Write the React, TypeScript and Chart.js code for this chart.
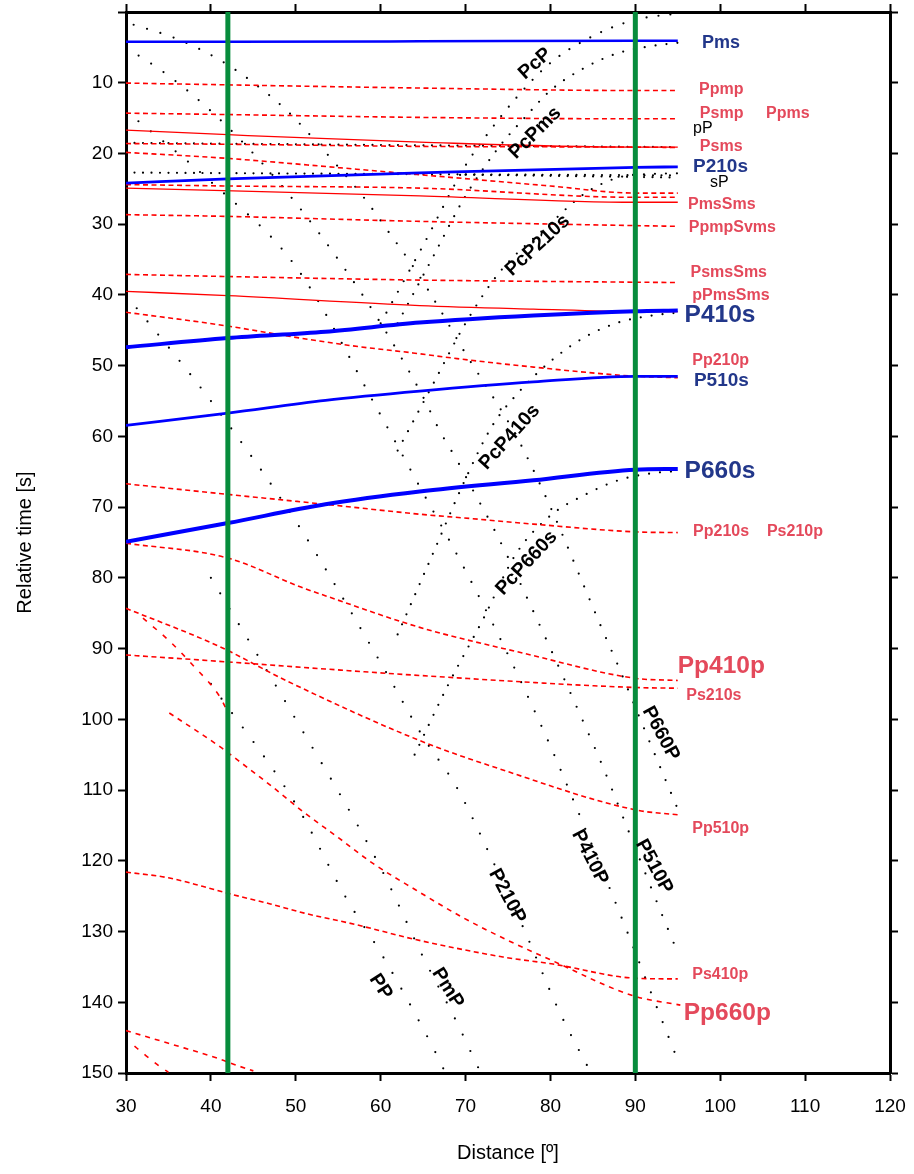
import React, { useEffect, useRef } from "react";
import { Chart, registerables } from "chart.js";
Chart.register(...registerables);

type P = [number, number];
const FONT = "'Liberation Sans', Arial, Helvetica, sans-serif";

// ---------- axis ticks ----------
const xMin = 30, xMax = 120, xStep = 10;
const yMin = 0, yMax = 150, yStep = 10;

// ---------- P-to-s conversions (blue) ----------
const Pms: P[] = [[30, 4.2], [42, 4.2], [64.6, 4.15], [90, 4.05], [95, 4.05]];
const P210s: P[] = [[30, 24.2], [42, 23.6], [64.6, 22.75], [90, 21.96], [95, 21.9]];
const P410s: P[] = [[30, 47.4], [42, 46.1], [53.5, 45.2], [64.6, 43.9], [78, 42.9], [90, 42.3], [95, 42.2]];
const P510s: P[] = [[30, 58.45], [42, 56.7], [53.5, 54.9], [64.6, 53.6], [78, 52.3], [90, 51.5], [95, 51.5]];
const P660s: P[] = [[30, 74.9], [42, 72.25], [53.5, 69.6], [64.6, 67.8], [78, 66.2], [90, 64.7], [95, 64.6]];

// ---------- multiples (red dashed) ----------
const Ppmp: P[] = [[30, 10.05], [42, 10.3], [64.6, 10.75], [90, 11.1], [95, 11.1]];
const Psmp: P[] = [[30, 14.3], [42, 14.5], [64.6, 14.9], [90, 15.1], [95, 15.1]];
const PsmsDash: P[] = [[30, 18.6], [42, 18.7], [64.6, 19.0], [90, 19.1], [95, 19.15]];
const PpmsDash: P[] = [[30, 19.85], [42, 20.7], [55, 22.0], [64.6, 23.0], [80, 24.6], [90, 25.6], [95, 25.6]];
const PmsSmsDash: P[] = [[30, 24.4], [42, 24.6], [64.6, 24.9], [90, 26.2], [95, 26.2]];
const PpmpSvms: P[] = [[30, 28.65], [42, 28.9], [64.6, 29.6], [90, 30.2], [95, 30.3]];
const PsmsSms: P[] = [[30, 37.1], [42, 37.4], [64.6, 37.9], [90, 38.2], [95, 38.25]];
const Pp210p: P[] = [[30, 42.45], [42, 44.4], [50, 46.0], [56.7, 47.2], [63.8, 48.2], [69, 49.0], [78, 50.2], [90, 51.5], [95, 51.7]];
const Pp210s: P[] = [[30, 66.7], [42, 68.2], [53.5, 69.6], [64.6, 71.0], [70.5, 71.6], [78, 72.4], [90, 73.5], [95, 73.6]];
const Pp410p: P[] = [[30, 75.1], [42, 77.2], [50.6, 81.3], [53.9, 82.7], [64.6, 87.0], [77, 90.7], [90, 94.2], [95, 94.5]];
const Pp510p: P[] = [[30, 84.3], [41, 89.7], [49, 94.6], [64.6, 103.0], [74, 107.0], [90, 112.8], [95, 113.5]];
const Ps210s: P[] = [[30, 90.9], [41, 91.8], [49, 92.5], [64.6, 93.8], [90, 95.5], [95, 95.6]];
const Pp660p: P[] = [[35.1, 99.1], [41.1, 103.9], [43.2, 105.8], [47.1, 109.4], [50.9, 113.1], [55.1, 116.8], [59, 120.3], [64.1, 124.1], [69.8, 128.1], [74.9, 131.2], [80, 134.0], [89.8, 139.1], [95.3, 140.4]];
const Ps410p: P[] = [[30, 121.6], [35, 122.4], [39, 123.6], [42, 124.6], [47, 126.1], [51, 127.4], [57, 129.0], [64, 131.1], [74.4, 133.6], [80.3, 134.6], [90, 136.6], [95, 136.7]];
const steepRedA: P[] = [[32, 85.7], [35, 88.8], [38, 92.5], [41, 96.7], [42, 99.0]];
const bottomRedA: P[] = [[30, 144.0], [35, 145.8], [41, 148.0], [43, 148.9], [45, 149.7]];
const bottomRedB: P[] = [[31, 146.2], [32, 147.2], [34, 149.1], [35, 149.9]];

// ---------- multiples (red solid) ----------
const PsmsSolid: P[] = [[30, 16.7], [42, 17.35], [64.6, 18.4], [90, 19.1], [95, 19.1]];
const PmsSmsSolid: P[] = [[30, 24.9], [64.6, 26.0], [90, 26.9], [95, 26.9]];
const pPmsSmsSolid: P[] = [[30, 39.5], [42, 40.1], [64.6, 41.5], [78, 42.0], [90, 42.35], [95, 42.35]];

// ---------- travel-time curves (black dotted) ----------
const cPcP: P[] = [[60, 44], [65, 33], [70, 21.7], [72, 18.2], [76, 12.1], [80, 7.2], [85, 3.4], [90, 1.1], [95, 0.2]];
const cPcPms: P[] = [[62, 44], [66, 35], [70, 26], [74, 19], [77, 14.9], [80, 11.1], [84, 7.9], [88, 5.8], [92, 4.8], [95, 4.35]];
const cPcP210s: P[] = [[62, 62], [66, 53], [70, 44], [74, 36.8], [80, 29.9], [84, 25.7], [88, 23.4], [92, 22.9], [95, 22.8]];
const cPcP410s: P[] = [[62, 88], [66, 77], [70, 66], [73.1, 58.6], [76, 54.1], [80, 49.4], [84, 46.0], [88, 43.9], [92, 42.9], [95, 42.5]];
const cPcP660s: P[] = [[64, 105], [68, 95], [72, 86], [76, 76.5], [80, 71.2], [84, 68.3], [88, 66.2], [92, 65.2], [95, 64.9]];
const cP660P: P[] = [[30.9, 1.8], [36, 3.8], [41, 6.75], [45, 10], [49, 14], [52, 17.8], [55, 21.9], [58, 26.2], [61, 31.2], [64, 36.3], [67, 42.1], [70, 48.3], [72, 52.1], [76, 60], [80, 70], [84, 81.3], [86, 87], [88, 92.5], [90, 98.3], [92, 104.1], [95, 112.7]];
const cP510P: P[] = [[30, 5], [35, 9], [40, 14], [45, 20], [50, 27], [55, 35], [60, 44], [64.9, 54.2], [67, 59.3], [69, 63.4], [71, 67.9], [73, 72.3], [75, 77.1], [77, 82.2], [80, 90], [84, 100.7], [86, 106.2], [89, 115.2], [93, 127.2], [95, 133]];
const cP410P: P[] = [[30, 14], [40, 24], [50, 36], [60, 57], [65, 68], [68, 74.5], [71, 81.3], [74, 88.4], [77, 95.9], [80, 103.8], [83, 112.3], [86, 121], [89, 129.9], [92, 139.1], [95, 148.2]];
const cP210P: P[] = [[30, 40], [40, 55], [50, 72], [60, 92], [65, 102.5], [69, 109.7], [73, 119.5], [77, 130], [81, 141.2], [85, 150.5]];
const cPmP: P[] = [[40, 80], [50, 100], [60, 121], [65, 133.6], [69, 142.9], [71, 148], [72, 150.5]];
const cPP: P[] = [[40, 95], [50, 112], [56, 125.4], [60, 133], [64, 141.5], [67, 148.4], [68, 151]];
const cpP: P[] = [[30, 18.5], [60, 18.8], [95, 19.1]];
const csP: P[] = [[30, 22.7], [60, 22.9], [95, 23.1]];
const csP2: P[] = [[70, 23.0], [95, 23.4]];

// ---------- reference distances (green) ----------
const refDistances = [42, 90];

// ---------- colours ----------
const BLUE = "#0000ff";
const RED = "#ff0000";
const GREEN = "#078c3c";
const LBLUE = "#22378a";
const LRED = "#e4495b";

type Lab = { text: string; d: number; t: number; size: number; color: string; bold: boolean; rot: number; align: CanvasTextAlign };
const lab = (text: string, d: number, t: number, size: number, color: string, bold = true, rot = 0, align: CanvasTextAlign = "left"): Lab => ({ text, d, t, size, color, bold, rot, align });

const S = 16; // small label size
const R = 19.5; // rotated label size
const phaseLabels: Lab[] = [
  lab("Pms", 97.85, 4.35, 18, LBLUE),
  lab("Ppmp", 97.5, 11.0, S, LRED),
  lab("Psmp", 97.6, 14.4, S, LRED),
  lab("Ppms", 105.4, 14.4, S, LRED),
  lab("pP", 96.8, 16.5, S, "#000", false),
  lab("Psms", 97.6, 19.0, S, LRED),
  lab("P210s", 96.8, 21.9, 19, LBLUE),
  lab("sP", 98.8, 24.1, S, "#000", false),
  lab("PmsSms", 96.2, 27.2, S, LRED),
  lab("PpmpSvms", 96.3, 30.5, S, LRED),
  lab("PsmsSms", 96.5, 36.8, S, LRED),
  lab("pPmsSms", 96.7, 40.1, S, LRED),
  lab("P410s", 95.8, 42.9, 24.5, LBLUE),
  lab("Pp210p", 96.7, 49.3, S, LRED),
  lab("P510s", 96.9, 52.2, 19, LBLUE),
  lab("P660s", 95.8, 64.9, 24.5, LBLUE),
  lab("Pp210s", 96.8, 73.4, S, LRED),
  lab("Ps210p", 105.5, 73.4, S, LRED),
  lab("Pp410p", 95.0, 92.5, 24.5, LRED),
  lab("Ps210s", 96.0, 96.6, S, LRED),
  lab("Pp510p", 96.7, 115.4, S, LRED),
  lab("Ps410p", 96.7, 136.1, S, LRED),
  lab("Pp660p", 95.7, 141.5, 24.5, LRED),
  lab("PcP", 78.2, 7.3, R, "#000", true, -42, "center"),
  lab("PcPms", 78.2, 17.1, R, "#000", true, -45, "center"),
  lab("PcP210s", 78.5, 33.0, R, "#000", true, -43, "center"),
  lab("PcP410s", 75.2, 60.1, R, "#000", true, -48, "center"),
  lab("PcP660s", 77.2, 77.9, R, "#000", true, -47, "center"),
  lab("P660P", 93.0, 102.0, R, "#000", true, 62, "center"),
  lab("P510P", 92.2, 120.8, R, "#000", true, 62, "center"),
  lab("P410P", 84.65, 119.5, R, "#000", true, 63, "center"),
  lab("P210P", 74.9, 125.0, R, "#000", true, 62, "center"),
  lab("PmP", 67.9, 138.0, R, "#000", true, 58, "center"),
  lab("PP", 60.0, 137.8, R, "#000", true, 57, "center"),
];

const pts = (a: P[]) => a.map(([x, y]) => ({ x, y }));

const blue = (a: P[], w: number) => ({ data: pts(a), borderColor: BLUE, borderWidth: w, order: 1 });
const redDash = (a: P[], gap = 3.5) => ({ data: pts(a), borderColor: RED, borderWidth: 1.6, borderDash: [5, gap], order: 2 });
const redSolid = (a: P[]) => ({ data: pts(a), borderColor: RED, borderWidth: 1.3, order: 2 });
const dots = (a: P[], gap = 8.5) => ({ data: pts(a), borderColor: "#000", borderWidth: 2.2, borderDash: [0, gap], borderCapStyle: "round", order: 3 });

const phaseLabelPlugin = {
  id: "phaseLabels",
  afterDatasetsDraw(chart: any) {
    const { ctx, scales } = chart;
    const xs = scales.x, ys = scales.y;
    for (const L of phaseLabels) {
      ctx.save();
      ctx.translate(xs.getPixelForValue(L.d), ys.getPixelForValue(L.t));
      ctx.rotate((L.rot * Math.PI) / 180);
      ctx.font = `${L.bold ? "bold " : ""}${L.size}px ${FONT}`;
      ctx.fillStyle = L.color;
      ctx.textAlign = L.align;
      ctx.textBaseline = "middle";
      ctx.fillText(L.text, 0, 0);
      ctx.restore();
    }
  },
};

const noPad = (s: any) => { s.paddingLeft = 0; s.paddingRight = 0; s.paddingTop = 0; s.paddingBottom = 0; };

export default function App() {
  const ref = useRef<HTMLCanvasElement | null>(null);
  useEffect(() => {
    if (!ref.current) return;
    const datasets: any[] = [
      ...refDistances.map((d) => ({ data: [{ x: d, y: yMin }, { x: d, y: yMax }], borderColor: GREEN, borderWidth: 5, order: 0, tension: 0 })),
      blue(Pms, 2.5), blue(P210s, 2.8), blue(P410s, 4), blue(P510s, 2.8), blue(P660s, 4),
      redDash(Ppmp), redDash(Psmp), redDash(PsmsDash), redDash(PpmsDash), redDash(PmsSmsDash),
      redDash(PpmpSvms), redDash(PsmsSms), redDash(Pp210p), redDash(Pp210s), redDash(Pp410p),
      redDash(Pp510p), redDash(Ps210s), redDash(Pp660p, 5), redDash(Ps410p), redDash(steepRedA, 8),
      redDash(bottomRedA, 5), redDash(bottomRedB, 8),
      redSolid(PsmsSolid), redSolid(PmsSmsSolid), redSolid(pPmsSmsSolid),
      dots(cPcP, 12), dots(cPcPms, 11), dots(cPcP210s, 11), dots(cPcP410s, 11), dots(cPcP660s, 11),
      dots(cP660P, 14), dots(cP510P, 15), dots(cP410P, 16), dots(cP210P, 17), dots(cPmP, 18), dots(cPP, 18),
      dots(cpP), dots(csP), dots(csP2),
    ].map((ds) => ({ pointRadius: 0, fill: false, tension: 0.4, cubicInterpolationMode: ds.tension === 0 ? "default" : "monotone", ...ds }));

    const tickFont = { family: FONT, size: 19 };
    const grid = { display: true, drawOnChartArea: false, drawTicks: true, tickLength: 8, tickWidth: 2, tickColor: "#000" };
    const border = { display: true, width: 3, color: "#000" };

    const chart = new Chart(ref.current, {
      type: "line",
      data: { datasets },
      plugins: [phaseLabelPlugin],
      options: {
        animation: false,
        responsive: false,
        maintainAspectRatio: false,
        layout: { padding: 0 },
        plugins: { legend: { display: false }, tooltip: { enabled: false } },
        scales: {
          x: {
            type: "linear", position: "bottom", min: xMin, max: xMax,
            ticks: { stepSize: xStep, color: "#000", font: tickFont, padding: 14, maxRotation: 0 },
            grid, border,
            title: { display: true, text: "Distance [º]", color: "#000", font: { family: FONT, size: 20 }, padding: { top: 0, bottom: 9 } },
            afterFit: (s: any) => { s.height = 101; noPad(s); },
          },
          x2: {
            type: "linear", position: "top", min: xMin, max: xMax,
            ticks: { stepSize: xStep, callback: () => "", font: { size: 1 } },
            grid, border,
            afterFit: (s: any) => { s.height = 12; noPad(s); },
          },
          y: {
            type: "linear", position: "left", min: yMin, max: yMax, reverse: true,
            ticks: { stepSize: yStep, color: "#000", font: tickFont, padding: 5, callback: (v: any) => (v === 0 ? "" : String(v)) },
            grid, border,
            title: { display: true, text: "Relative time [s]", color: "#000", font: { family: FONT, size: 20 }, padding: { top: 13, bottom: 0 } },
            afterFit: (s: any) => { s.width = 126; noPad(s); },
          },
          y2: {
            type: "linear", position: "right", min: yMin, max: yMax, reverse: true,
            ticks: { stepSize: yStep, callback: () => "", font: { size: 1 } },
            grid, border,
            afterFit: (s: any) => { s.width = 24; noPad(s); },
          },
        },
      } as any,
    });
    return () => chart.destroy();
  }, []);

  return (
    <div style={{ position: "fixed", left: 0, top: 0, width: 914, height: 1174, background: "#fff" }}>
      <canvas ref={ref} width={914} height={1174} style={{ display: "block", width: 914, height: 1174 }} />
    </div>
  );
}
